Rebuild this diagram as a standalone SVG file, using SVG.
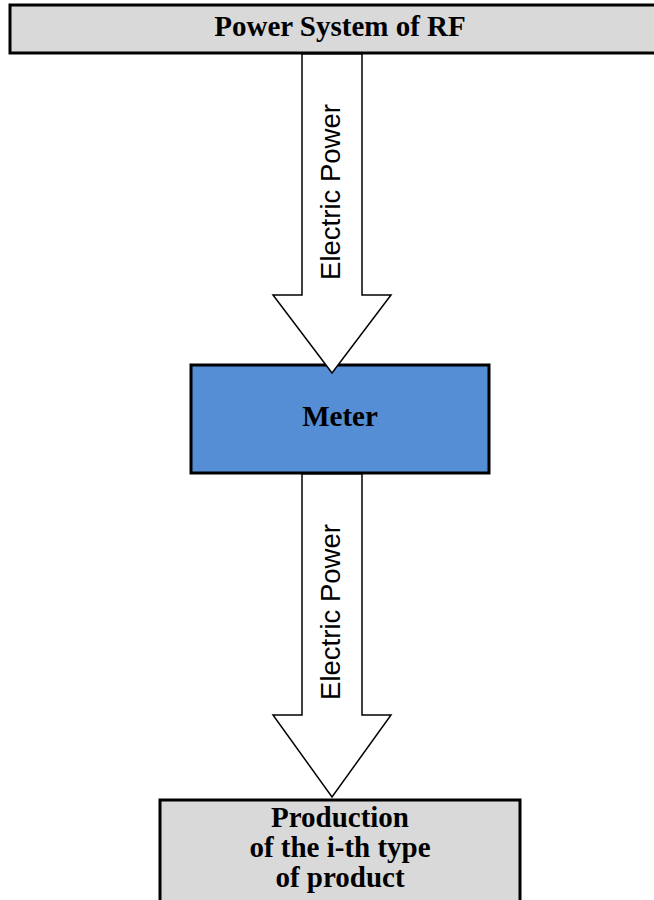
<svg xmlns="http://www.w3.org/2000/svg" width="654" height="900" viewBox="0 0 654 900">
<style>
.box{stroke:#000;stroke-width:3}
.grey{fill:#d9d9d9}
.blue{fill:#558ed5}
.t{font-family:"Liberation Serif","Times New Roman",serif;font-weight:bold;font-size:29px;fill:#000;text-anchor:middle}
.arrow{fill:#fff;stroke:#000;stroke-width:1.5;stroke-linejoin:miter}
.lbl{font-family:"Liberation Sans",Arial,sans-serif;font-size:27.5px;fill:#000;text-anchor:middle}
</style>
<rect width="654" height="900" fill="#fff"/>
<g id="power-system">
<rect class="box grey" x="10" y="5" width="660" height="48"/>
<text class="t" x="340" y="36">Power System of RF</text>
</g>
<g id="meter">
<rect class="box blue" x="191" y="365" width="298" height="108"/>
<text class="t" x="340" y="426">Meter</text>
</g>
<g id="production">
<rect class="box grey" x="160" y="800" width="360" height="110"/>
<text class="t" x="340" y="827">Production</text>
<text class="t" x="340" y="857">of the i-th type</text>
<text class="t" x="340" y="887">of product</text>
</g>
<g id="connectors">
<polygon class="arrow" points="302,54 362,54 362,295 391,295 332,373 273,295 302,295"/>
<text class="lbl" transform="translate(340,192) rotate(-90)">Electric Power</text>
<polygon class="arrow" points="302,474 362,474 362,715 391,715 332,797 273,715 302,715"/>
<text class="lbl" transform="translate(340,612) rotate(-90)">Electric Power</text>
</g>
</svg>
